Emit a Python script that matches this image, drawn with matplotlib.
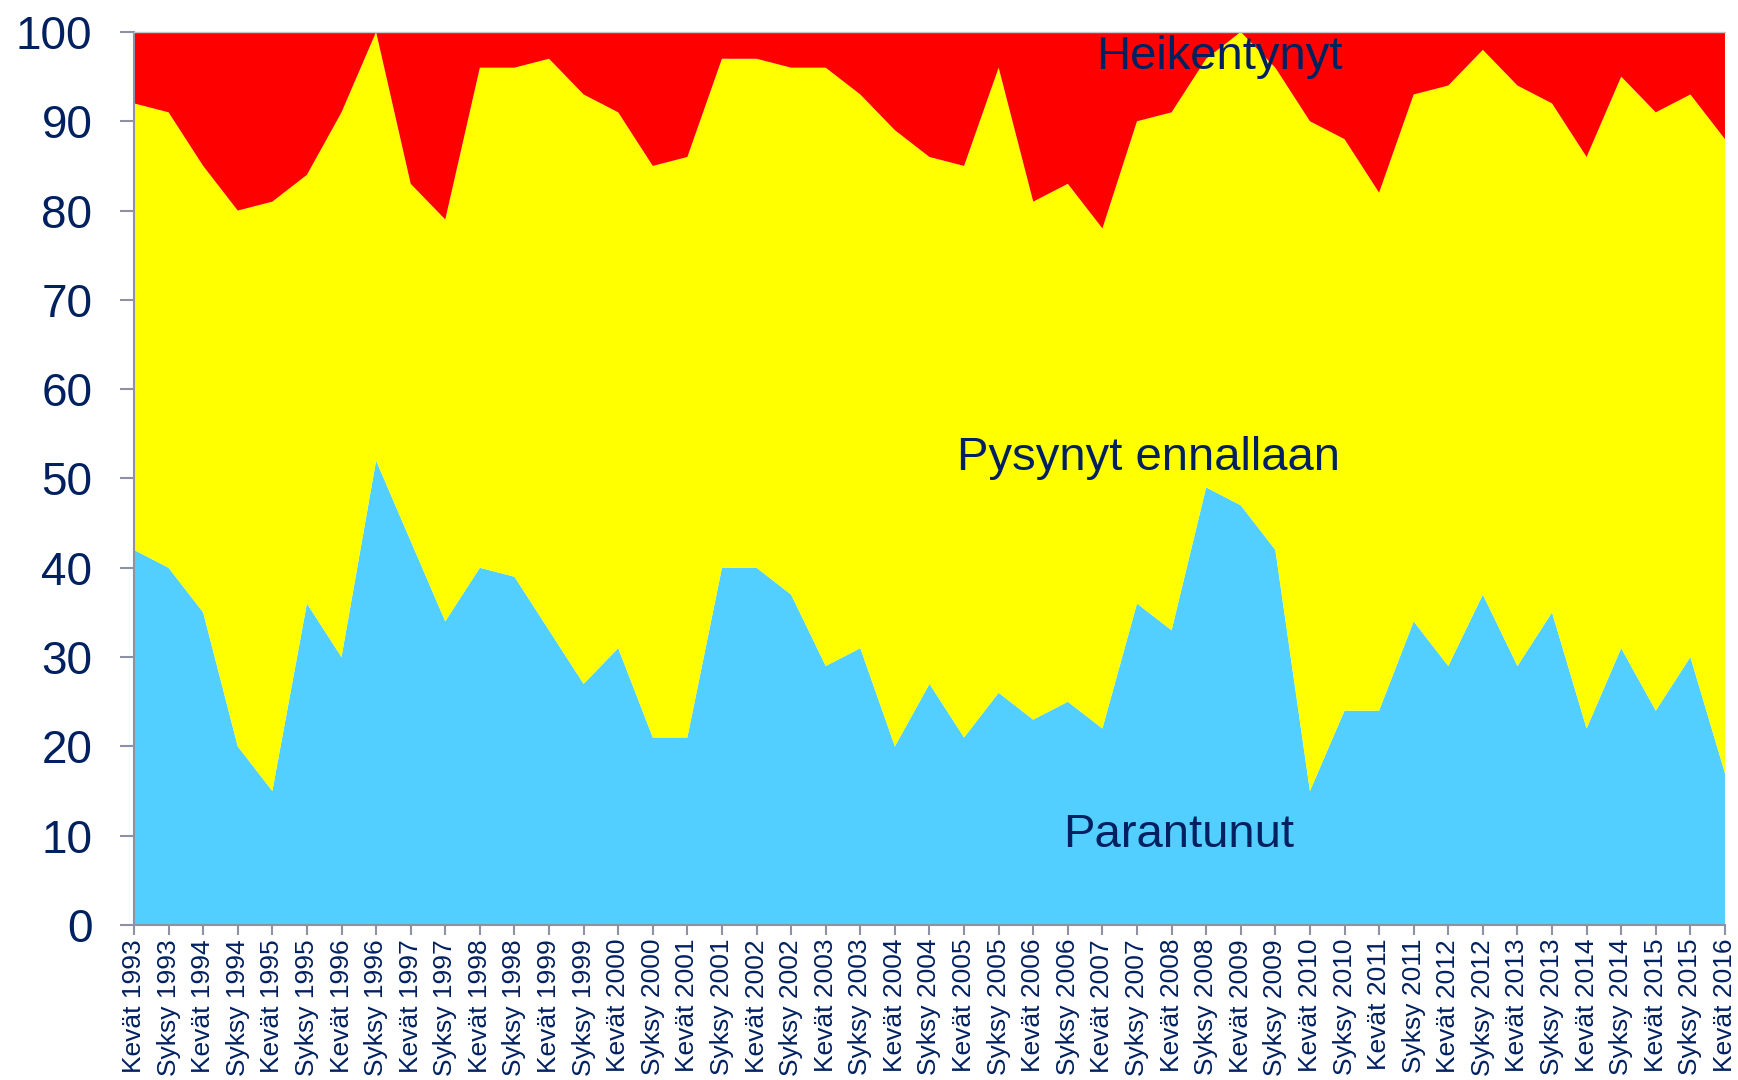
import matplotlib.pyplot as plt
import numpy as np

plt.rcParams['font.family'] = ['Liberation Sans', 'DejaVu Sans']

# kausi-labels (kevät/syksy)
years = list(range(1993, 2017))
periods = []
for y in years:
    periods.append('Kevät %d' % y)
    if y < 2016:
        periods.append('Syksy %d' % y)

# Parantunut (%)
parantunut = [42, 40, 35, 20, 15, 36, 30, 52, 43, 34,
              40, 39, 33, 27, 31, 21, 21, 40, 40, 37,
              29, 31, 20, 27, 21, 26, 23, 25, 22, 36,
              33, 49, 47, 42, 15, 24, 24, 34, 29, 37,
              29, 35, 22, 31, 24, 30, 17]
# Parantunut + Pysynyt ennallaan (%)
ylin = [92, 91, 85, 80, 81, 84, 91, 100, 83, 79,
        96, 96, 97, 93, 91, 85, 86, 97, 97, 96,
        96, 93, 89, 86, 85, 96, 81, 83, 78, 90,
        91, 97, 100, 96, 90, 88, 82, 93, 94, 98,
        94, 92, 86, 95, 91, 93, 88]

pysynyt = [t - p for t, p in zip(ylin, parantunut)]
heikentynyt = [100 - t for t in ylin]

navy = '#002060'
axcol = '#8E90A4'

fig = plt.figure(figsize=(17.38, 10.80), dpi=100)
ax = fig.add_axes([0.0771, 0.1435, 0.9154, 0.8269])

x = np.arange(len(periods))
ax.stackplot(x, parantunut, pysynyt, heikentynyt,
             colors=['#53CFFF', '#FFFF00', '#FF0000'], linewidth=0)

ax.set_xlim(0, len(periods) - 1)
ax.set_ylim(0, 100)
ax.set_yticks(range(0, 101, 10))
ax.set_xticks(x)
ax.set_xticklabels(periods, rotation=90, ha='center', va='top')

ax.tick_params(axis='y', labelsize=33, colors=axcol, labelcolor=navy,
               length=10, width=1.5, pad=20)
ax.tick_params(axis='x', labelsize=19, colors=axcol, labelcolor=navy,
               length=7, width=1.5, pad=3)

for s in ['left', 'bottom']:
    ax.spines[s].set_color(axcol)
    ax.spines[s].set_linewidth(1.5)
ax.spines['right'].set_visible(False)
ax.spines['top'].set_color('#C8C8C8')
ax.spines['top'].set_linewidth(1)

ax.text(31.38, 95.8, 'Heikentynyt', fontsize=34, color=navy,
        ha='center', va='baseline')
ax.text(29.32, 50.9, 'Pysynyt ennallaan', fontsize=34, color=navy,
        ha='center', va='baseline')
ax.text(30.2, 8.7, 'Parantunut', fontsize=34, color=navy,
        ha='center', va='baseline')

fig.savefig('out.png', dpi=100)
